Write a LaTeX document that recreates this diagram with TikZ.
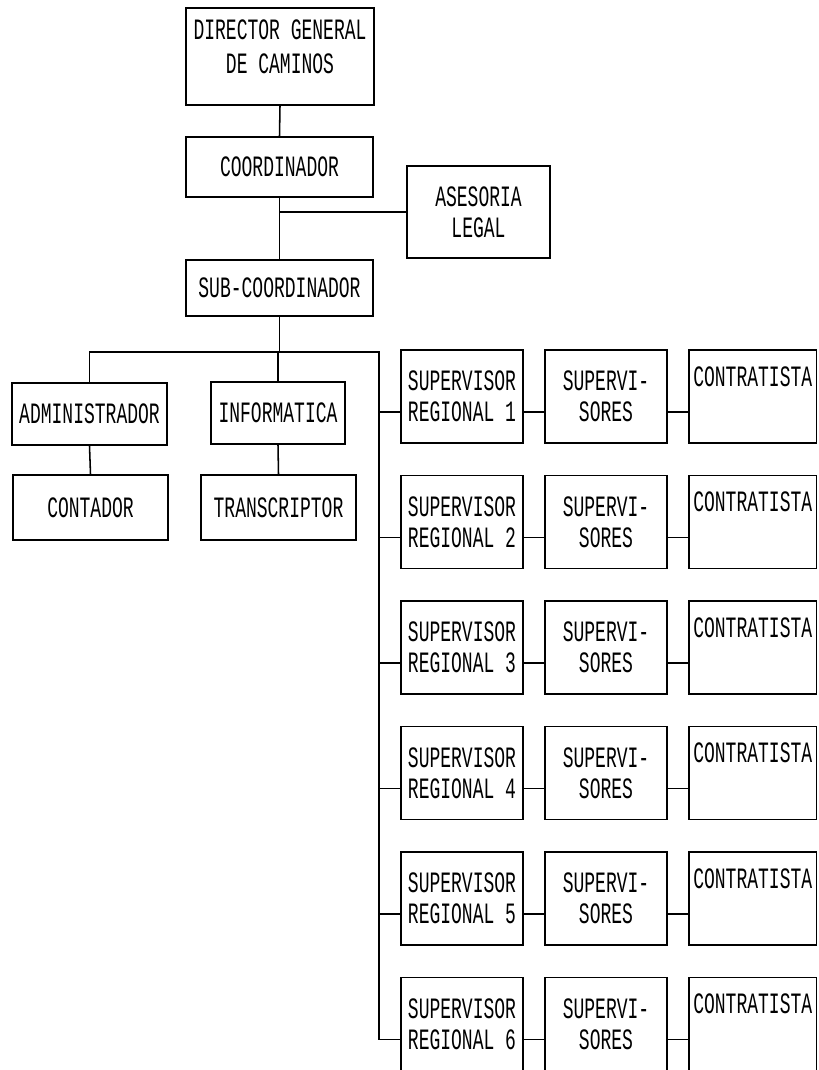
\documentclass[tikz,border=0pt]{standalone}
\usepackage{fontspec}
\usepackage{tikz}
\newfontfamily\dotfont{Liberation Mono}[FakeStretch=0.61]
\tikzset{caja/.style={draw, line width=1.1pt, align=center, inner sep=0pt,
  font=\dotfont\fontsize{21}{22}\selectfont}}
\tikzset{regbox/.style={caja, minimum width=3.05cm, minimum height=2.325cm}}
\tikzset{linea/.style={line width=1.1pt}}

\begin{document}
\begin{tikzpicture}[x=0.025cm, y=-0.025cm]
      \useasboundingbox (0,0) rectangle (818,1070);
      \clip (0,0) rectangle (818,1070);

      \node [caja, minimum width=4.7cm, minimum height=2.425cm, text depth=14pt, font=\dotfont\fontsize{21}{24}\selectfont] (dir) at (280,56.5) {DIRECTOR GENERAL\\DE CAMINOS};
      \node [caja, minimum width=4.675cm, minimum height=1.5cm] (coord) at (279.5,167) {COORDINADOR};
      \node [caja, minimum width=3.575cm, minimum height=2.3cm] (ases) at (478.5,212) {ASESORIA\\LEGAL};
      \node [caja, minimum width=4.675cm, minimum height=1.4cm] (sub) at (279.5,288) {SUB-COORDINADOR};

      \node [caja, minimum width=3.875cm, minimum height=1.55cm] (admin) at (89.5,414) {ADMINISTRADOR};
      \node [caja, minimum width=3.875cm, minimum height=1.625cm] (cont) at (90.5,507.5) {CONTADOR};
      \node [caja, minimum width=3.35cm, minimum height=1.55cm] (info) at (278,413) {INFORMATICA};
      \node [caja, minimum width=3.875cm, minimum height=1.625cm] (trans) at (278.5,507.5) {TRANSCRIPTOR};

      \coordinate (busR) at (379,352);

      \draw [linea] (dir.south) -- (coord.north);
      \draw [linea] (coord.south) -- (sub.north);
      \draw [linea] (ases.west) -- (ases.west -| coord.south);
      \draw [linea] (sub.south) -- (sub.south |- busR);
      \draw [linea] (info.north) -- (info.north |- busR);
      \draw [linea] (admin.south) -- (cont.north);
      \draw [linea] (info.south) -- (trans.north);

      % regiones
      \foreach \i in {1,...,6} {
        \pgfmathsetmacro\fila{350+125.5*(\i-1)}
        \node [regbox] (sr\i) at (462,\fila+46.5) {SUPERVISOR\\REGIONAL \i};
        \node [regbox] (sup\i) at (606,\fila+46.5) {SUPERVI-\\SORES};
        \node [regbox, minimum width=3.1875cm] (con\i) at (752.75,\fila+46.5) {CONTRATISTA\\\strut};
        \coordinate (e\i) at (379,\fila+62);
        \draw [linea] (e\i) -- (e\i -| sr\i.west);
        \draw [linea] (e\i -| sr\i.east) -- (e\i -| sup\i.west);
        \draw [linea] (e\i -| sup\i.east) -- (e\i -| con\i.west);
      }

      \draw [linea] (admin.north) |- (busR) -- (e6);
\end{tikzpicture}
\end{document}
